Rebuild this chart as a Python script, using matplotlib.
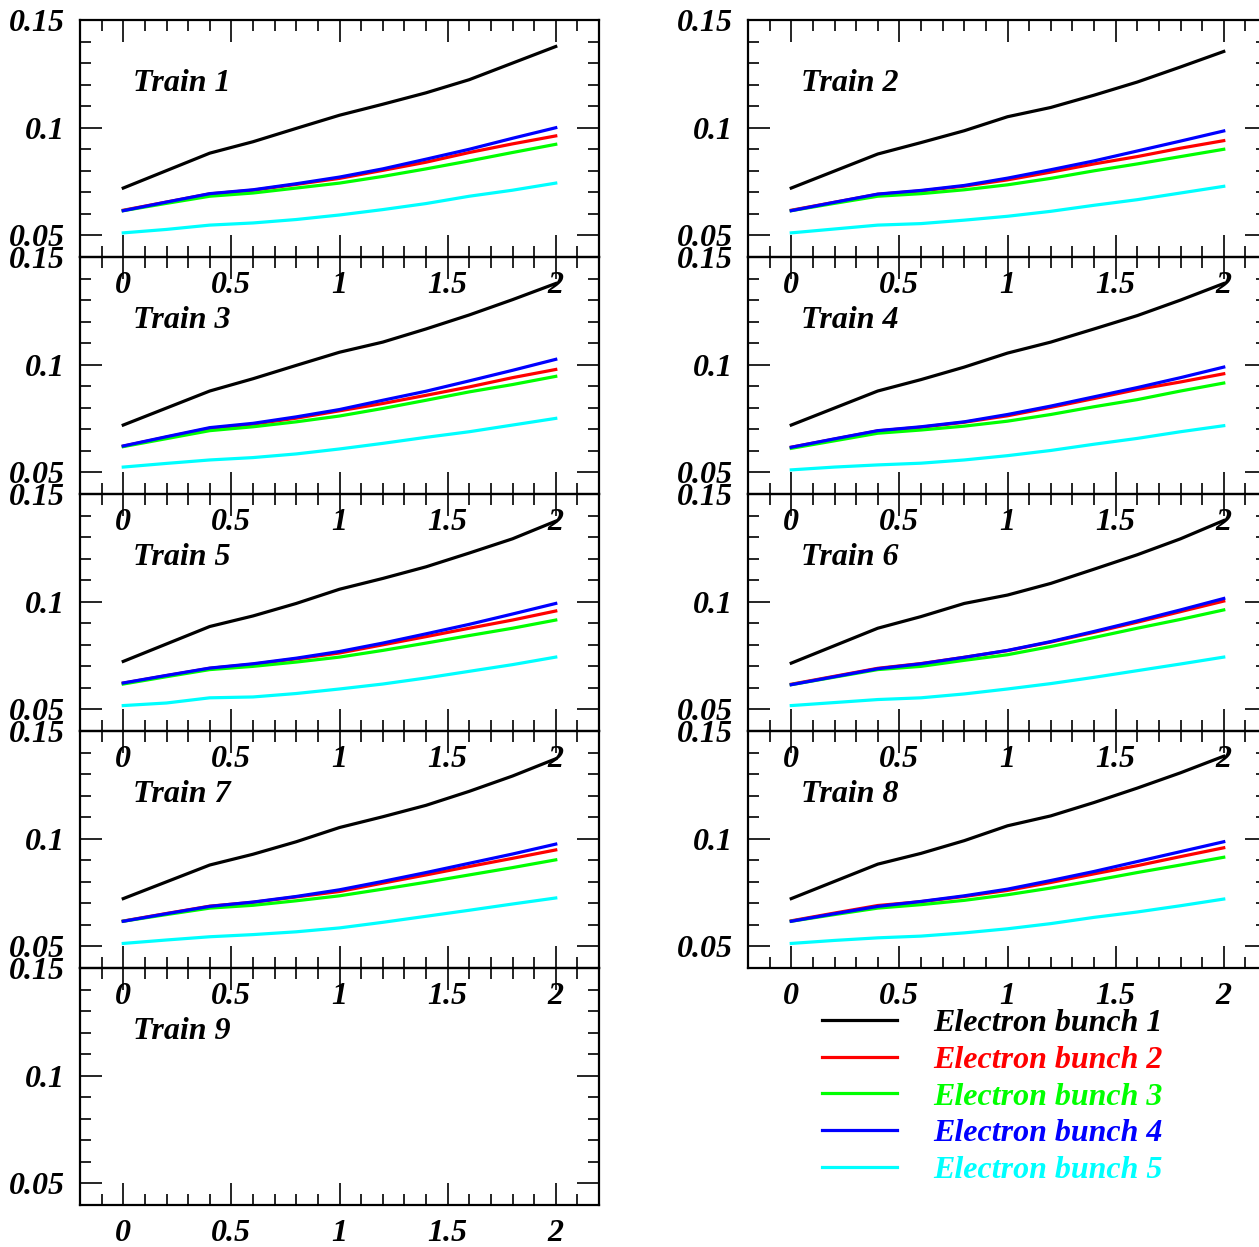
import matplotlib
matplotlib.use("Agg")
import matplotlib.pyplot as plt
from matplotlib.ticker import MultipleLocator, FuncFormatter

plt.rcParams['font.family'] = ['Liberation Serif', 'DejaVu Serif']
plt.rcParams['font.weight'] = 'bold'
plt.rcParams['font.style'] = 'italic'

x = [0.0, 0.2, 0.4, 0.6, 0.8, 1.0, 1.2, 1.4, 1.6, 1.8, 2.0]

train_names = ["Train 1", "Train 2", "Train 3", "Train 4", "Train 5",
               "Train 6", "Train 7", "Train 8", "Train 9"]
bunch_labels = ["Electron bunch 1", "Electron bunch 2", "Electron bunch 3",
                "Electron bunch 4", "Electron bunch 5"]
bunch_colors = ["black", "#ff0000", "#00ff00", "#0000ff", "#00ffff"]

# one row per train (trains 1-8), train 9 is empty
bunch1 = [
    [0.0720, 0.0801, 0.0882, 0.0935, 0.0997, 0.1058, 0.1109, 0.1162, 0.1223, 0.1300, 0.1377],
    [0.0720, 0.0799, 0.0878, 0.0931, 0.0986, 0.1051, 0.1094, 0.1151, 0.1212, 0.1282, 0.1354],
    [0.0720, 0.0799, 0.0878, 0.0935, 0.0997, 0.1058, 0.1105, 0.1166, 0.1231, 0.1302, 0.1377],
    [0.0720, 0.0799, 0.0878, 0.0931, 0.0989, 0.1054, 0.1105, 0.1166, 0.1228, 0.1300, 0.1377],
    [0.0723, 0.0804, 0.0885, 0.0934, 0.0992, 0.1058, 0.1108, 0.1162, 0.1226, 0.1292, 0.1374],
    [0.0715, 0.0796, 0.0877, 0.0931, 0.0992, 0.1031, 0.1085, 0.1151, 0.1218, 0.1292, 0.1377],
    [0.0722, 0.0800, 0.0878, 0.0928, 0.0986, 0.1052, 0.1102, 0.1155, 0.1220, 0.1291, 0.1371],
    [0.0722, 0.0802, 0.0882, 0.0932, 0.0991, 0.1060, 0.1106, 0.1168, 0.1235, 0.1306, 0.1383],
]
bunch2 = [
    [0.0617, 0.0655, 0.0693, 0.0710, 0.0737, 0.0765, 0.0802, 0.0840, 0.0885, 0.0925, 0.0962],
    [0.0617, 0.0654, 0.0691, 0.0707, 0.0729, 0.0758, 0.0794, 0.0832, 0.0866, 0.0905, 0.0940],
    [0.0622, 0.0664, 0.0705, 0.0724, 0.0752, 0.0786, 0.0820, 0.0858, 0.0897, 0.0940, 0.0978],
    [0.0617, 0.0655, 0.0693, 0.0710, 0.0733, 0.0763, 0.0802, 0.0843, 0.0885, 0.0920, 0.0958],
    [0.0622, 0.0657, 0.0691, 0.0710, 0.0735, 0.0762, 0.0800, 0.0838, 0.0877, 0.0915, 0.0957],
    [0.0617, 0.0654, 0.0691, 0.0713, 0.0742, 0.0773, 0.0813, 0.0858, 0.0905, 0.0954, 0.1003],
    [0.0618, 0.0653, 0.0687, 0.0705, 0.0730, 0.0755, 0.0794, 0.0832, 0.0871, 0.0909, 0.0948],
    [0.0619, 0.0655, 0.0690, 0.0708, 0.0732, 0.0760, 0.0797, 0.0837, 0.0875, 0.0917, 0.0958],
]
bunch3 = [
    [0.0615, 0.0649, 0.0682, 0.0697, 0.0720, 0.0743, 0.0774, 0.0809, 0.0846, 0.0885, 0.0923],
    [0.0615, 0.0649, 0.0682, 0.0694, 0.0712, 0.0735, 0.0765, 0.0800, 0.0832, 0.0866, 0.0900],
    [0.0620, 0.0657, 0.0694, 0.0712, 0.0735, 0.0762, 0.0797, 0.0835, 0.0874, 0.0908, 0.0946],
    [0.0612, 0.0647, 0.0682, 0.0697, 0.0715, 0.0738, 0.0769, 0.0805, 0.0838, 0.0878, 0.0915],
    [0.0618, 0.0652, 0.0685, 0.0700, 0.0720, 0.0743, 0.0774, 0.0808, 0.0843, 0.0877, 0.0915],
    [0.0615, 0.0650, 0.0685, 0.0700, 0.0728, 0.0754, 0.0792, 0.0834, 0.0877, 0.0918, 0.0962],
    [0.0617, 0.0648, 0.0678, 0.0691, 0.0712, 0.0735, 0.0766, 0.0798, 0.0832, 0.0866, 0.0902],
    [0.0617, 0.0648, 0.0678, 0.0694, 0.0714, 0.0740, 0.0771, 0.0806, 0.0843, 0.0878, 0.0914],
]
bunch4 = [
    [0.0615, 0.0655, 0.0694, 0.0712, 0.0740, 0.0771, 0.0809, 0.0854, 0.0900, 0.0951, 0.1000],
    [0.0615, 0.0654, 0.0692, 0.0709, 0.0732, 0.0766, 0.0805, 0.0846, 0.0892, 0.0938, 0.0985],
    [0.0623, 0.0666, 0.0708, 0.0728, 0.0758, 0.0792, 0.0835, 0.0877, 0.0925, 0.0974, 0.1025],
    [0.0617, 0.0656, 0.0694, 0.0712, 0.0735, 0.0769, 0.0808, 0.0851, 0.0894, 0.0940, 0.0989],
    [0.0623, 0.0658, 0.0692, 0.0712, 0.0738, 0.0769, 0.0808, 0.0851, 0.0895, 0.0943, 0.0992],
    [0.0615, 0.0652, 0.0689, 0.0712, 0.0742, 0.0774, 0.0815, 0.0862, 0.0911, 0.0962, 0.1015],
    [0.0617, 0.0652, 0.0686, 0.0706, 0.0732, 0.0763, 0.0802, 0.0843, 0.0886, 0.0929, 0.0975],
    [0.0617, 0.0652, 0.0686, 0.0709, 0.0735, 0.0766, 0.0806, 0.0848, 0.0894, 0.0940, 0.0986],
]
bunch5 = [
    [0.0512, 0.0528, 0.0548, 0.0558, 0.0574, 0.0595, 0.0620, 0.0648, 0.0682, 0.0710, 0.0743],
    [0.0512, 0.0530, 0.0548, 0.0555, 0.0571, 0.0589, 0.0612, 0.0640, 0.0666, 0.0697, 0.0728],
    [0.0525, 0.0542, 0.0558, 0.0569, 0.0586, 0.0609, 0.0635, 0.0663, 0.0689, 0.0720, 0.0751],
    [0.0512, 0.0525, 0.0535, 0.0543, 0.0558, 0.0578, 0.0602, 0.0631, 0.0658, 0.0689, 0.0717],
    [0.0518, 0.0530, 0.0554, 0.0558, 0.0574, 0.0595, 0.0618, 0.0646, 0.0677, 0.0708, 0.0743],
    [0.0518, 0.0532, 0.0546, 0.0554, 0.0572, 0.0595, 0.0620, 0.0649, 0.0680, 0.0711, 0.0743],
    [0.0514, 0.0530, 0.0545, 0.0555, 0.0568, 0.0586, 0.0612, 0.0640, 0.0668, 0.0697, 0.0725],
    [0.0514, 0.0528, 0.0540, 0.0548, 0.0563, 0.0582, 0.0606, 0.0635, 0.0660, 0.0689, 0.0720],
]
bunches = [bunch1, bunch2, bunch3, bunch4, bunch5]

W, H = 1259, 1247
fig = plt.figure(figsize=(W / 100, H / 100), dpi=100)

col_left = [80, 748]
row_top = [20, 257, 494, 731, 968]
pw, ph = 519, 237

fmt = FuncFormatter(lambda v, p: "%g" % round(v, 3))
handles = []
for i, name in enumerate(train_names):
    r, c = divmod(i, 2)
    left = col_left[c] / W
    bottom = 1 - (row_top[r] + ph) / H
    ax = fig.add_axes([left, bottom, pw / W, ph / H])
    ax.set_facecolor("none")
    ax.set_xlim(-0.2, 2.2)
    ax.set_ylim(0.04, 0.15)
    if i < 8:
        for b in range(5):
            ln, = ax.plot(x, bunches[b][i], color=bunch_colors[b], lw=2.3,
                          label=bunch_labels[b])
            if i == 0:
                handles.append(ln)
    ax.text(0.102, 0.70, name, transform=ax.transAxes, fontsize=23,
            fontweight="bold", style="italic", va="baseline")
    ax.xaxis.set_major_locator(MultipleLocator(0.5))
    ax.xaxis.set_minor_locator(MultipleLocator(0.1))
    ax.yaxis.set_major_locator(MultipleLocator(0.05))
    ax.yaxis.set_minor_locator(MultipleLocator(0.01))
    ax.xaxis.set_major_formatter(fmt)
    ax.yaxis.set_major_formatter(fmt)
    ax.tick_params(which="both", direction="in", top=True, right=True,
                   width=1.2, labelsize=23)
    ax.tick_params(which="major", length=16)
    ax.tick_params(which="minor", length=8)
    ax.tick_params(axis="x", pad=10)
    ax.tick_params(axis="y", pad=11)
    for sp in ax.spines.values():
        sp.set_linewidth(1.6)

fig.legend(handles=handles, loc="upper left",
           bbox_to_anchor=(793 / W, 1 - 980 / H), frameon=False,
           handlelength=2.35, handletextpad=1.15,
           labelspacing=0.23, labelcolor="linecolor",
           prop={"weight": "bold", "style": "italic", "size": 23})

fig.savefig("out.png", dpi=100)
